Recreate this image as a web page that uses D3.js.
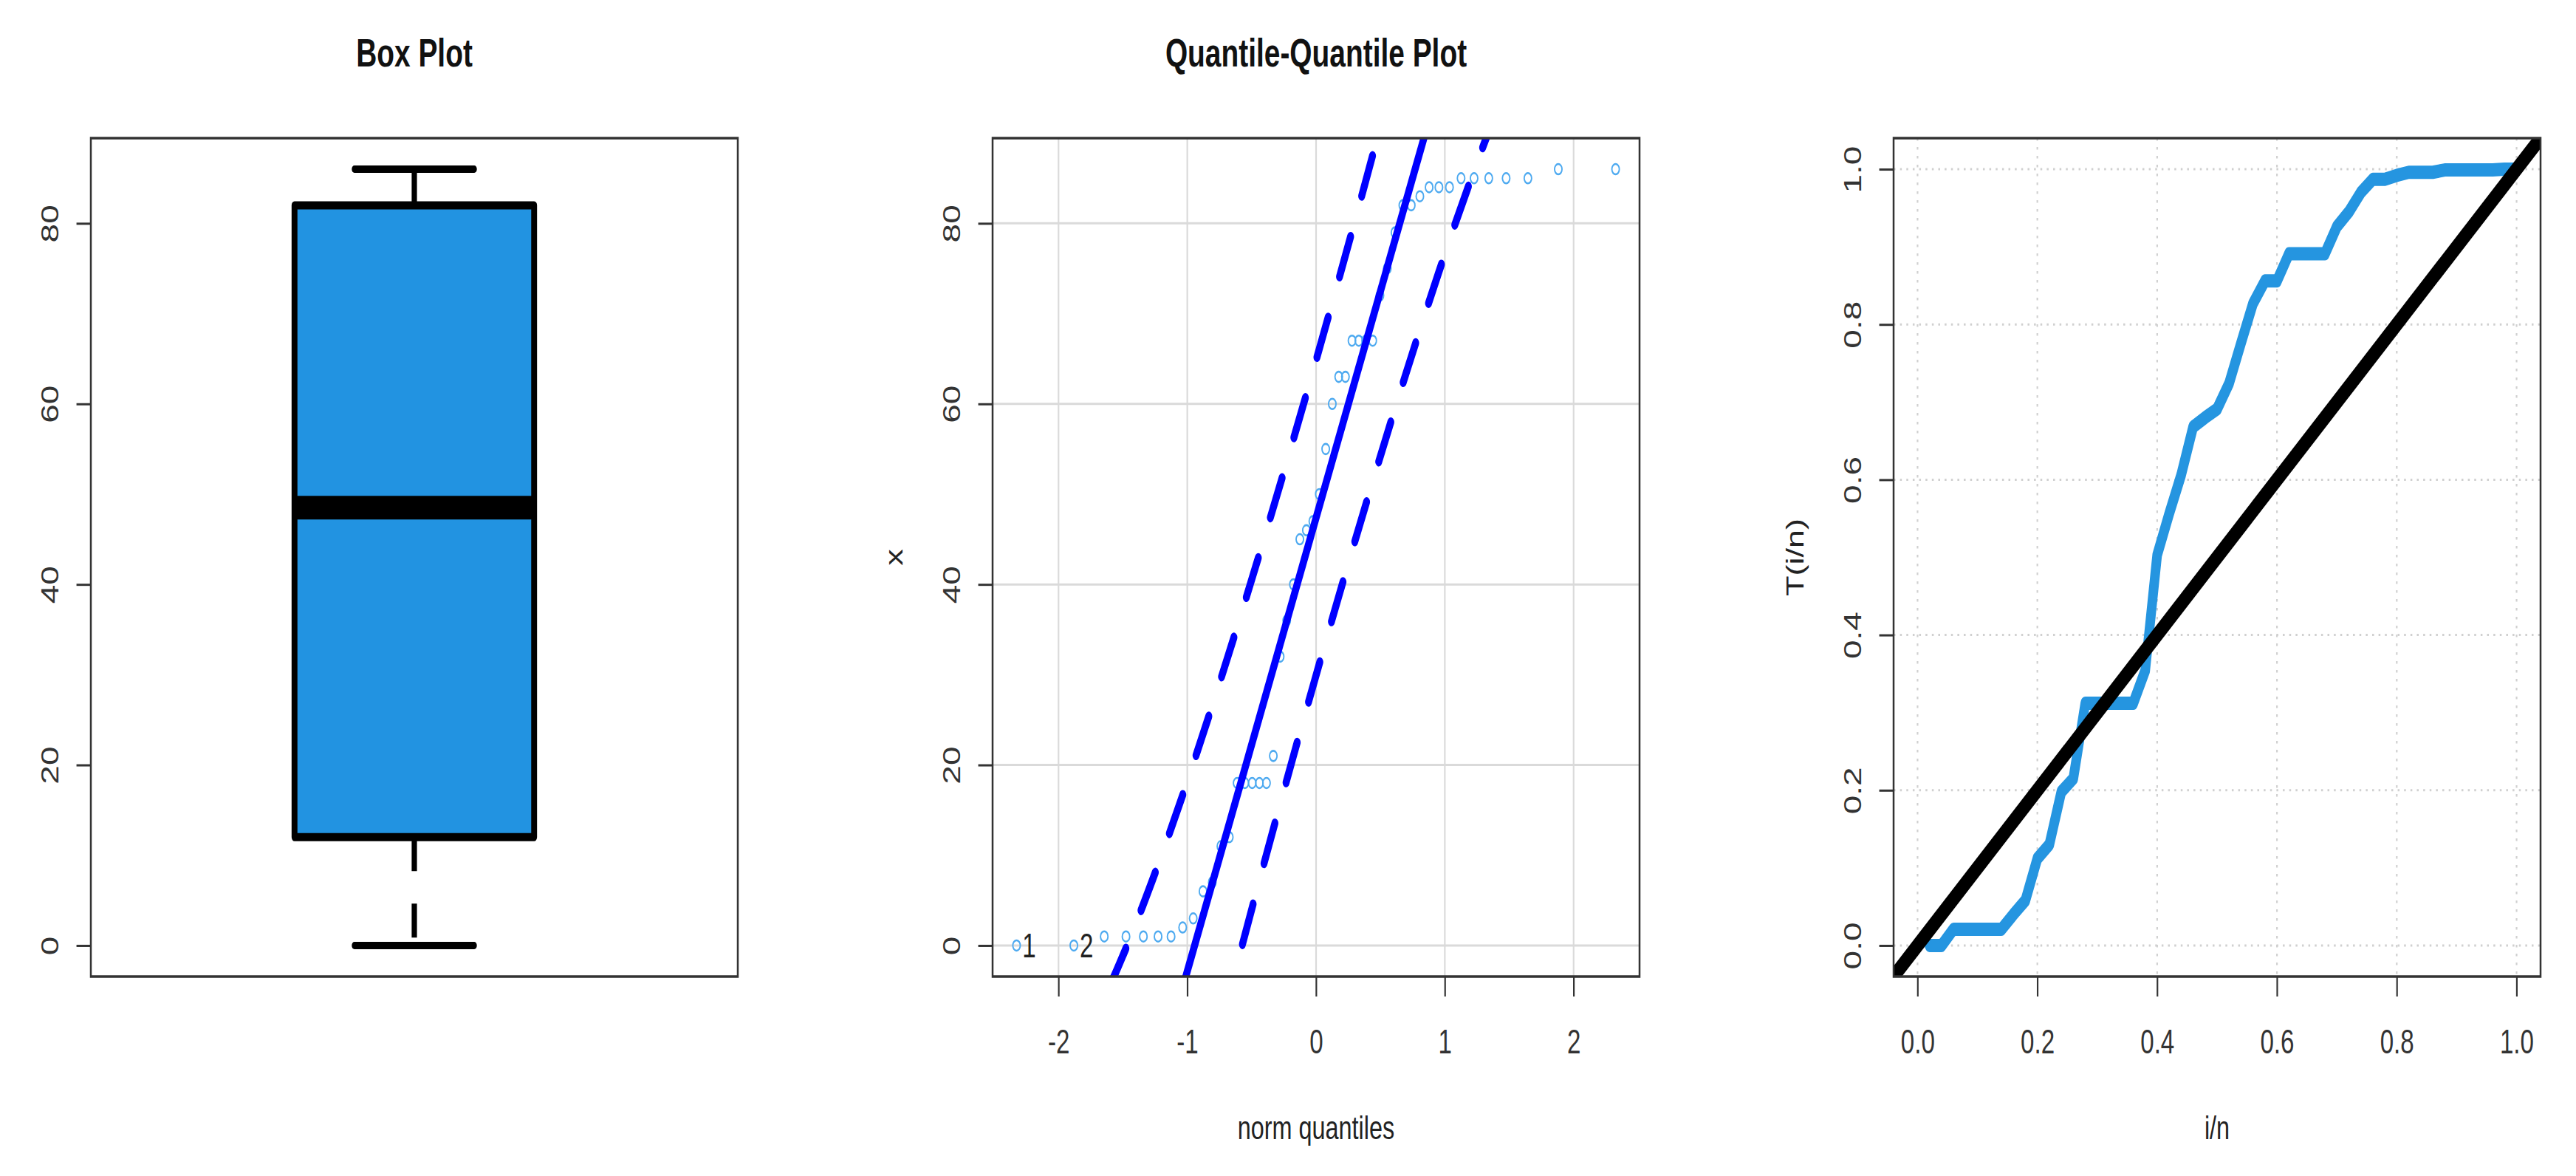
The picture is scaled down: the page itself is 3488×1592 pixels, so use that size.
<!DOCTYPE html>
<html>
<head>
<meta charset="utf-8">
<title>Box Plot / Quantile-Quantile Plot / TTT</title>
<script src="https://cdn.jsdelivr.net/npm/d3@7"></script>
<style>
  body { margin: 0; background: #fff; }
  text { font-family: "Liberation Sans", Arial, sans-serif; }
</style>
</head>
<body>
<div id="chart"></div>

<script>

// ---- data ----
var sample = [0, 0, 1, 1, 1, 1, 1, 2, 3, 6, 7, 11, 12, 18, 18, 18, 18, 18, 21, 32,
	36, 40, 45, 46, 47, 50, 55, 60, 63, 63, 67, 67, 67, 67, 72, 75, 79, 82, 82, 83,
	84, 84, 84, 85, 85, 85, 85, 85, 86, 86];

var normQuantiles = [-2.326, -1.881, -1.645, -1.476, -1.341, -1.227, -1.126, -1.036, -0.954, -0.878,
	-0.806, -0.739, -0.674, -0.613, -0.553, -0.496, -0.440, -0.385, -0.332, -0.279,
	-0.228, -0.176, -0.126, -0.075, -0.025, 0.025, 0.075, 0.126, 0.176, 0.228,
	0.279, 0.332, 0.385, 0.440, 0.496, 0.553, 0.613, 0.674, 0.739, 0.806,
	0.878, 0.954, 1.036, 1.126, 1.227, 1.341, 1.476, 1.645, 1.881, 2.326];

// min, lower hinge, median, upper hinge, max
var boxStats = [0, 12, 48.5, 82, 86];

var qqLineX = [-1.2, 1.0];
var qqLineY = [-12.9, 97.6];

var envZ = [-1.881, -1.645, -1.476, -1.341, -1.227, -1.036, -0.954, -0.674, -0.385, -0.176, -0.025,
	0.025, 0.176, 0.385, 0.674, 0.954, 1.036, 1.227, 1.341, 1.476, 1.645, 1.881];
var envUpper = [-12.18, -5.81, -0.30, 4.57, 8.93, 16.65, 20.13, 32.49, 45.97, 56.09, 63.57,
	66.09, 73.77, 84.65, 100.21, 115.97, 120.73, 132.19, 139.29, 147.98, 159.45, 176.78];
var envLower = [-82.02, -64.69, -53.22, -44.53, -37.43, -25.97, -21.21, -5.45, 10.11, 20.99, 28.67,
	31.19, 38.67, 48.79, 62.27, 74.63, 78.11, 85.83, 90.19, 95.06, 100.57, 106.94];

var idIndex = [0, 1];
var idText = ["1", "2"];

var tttX = [0.02, 0.04, 0.06, 0.08, 0.10, 0.12, 0.14, 0.16, 0.18, 0.20,
	0.22, 0.24, 0.26, 0.28, 0.30, 0.32, 0.34, 0.36, 0.38, 0.40,
	0.42, 0.44, 0.46, 0.48, 0.50, 0.52, 0.54, 0.56, 0.58, 0.60,
	0.62, 0.64, 0.66, 0.68, 0.70, 0.72, 0.74, 0.76, 0.78, 0.80,
	0.82, 0.84, 0.86, 0.88, 0.90, 0.92, 0.94, 0.96, 0.98, 1.00];
var tttY = [0, 0, 0.021, 0.021, 0.021, 0.021, 0.021, 0.040, 0.058, 0.112,
	0.130, 0.198, 0.215, 0.312, 0.312, 0.312, 0.312, 0.312, 0.354, 0.503,
	0.556, 0.606, 0.668, 0.680, 0.691, 0.724, 0.776, 0.827, 0.856, 0.856,
	0.891, 0.891, 0.891, 0.891, 0.926, 0.945, 0.970, 0.987, 0.987, 0.992,
	0.996, 0.996, 0.996, 0.999, 0.999, 0.999, 0.999, 0.999, 1, 1];

var diagX = [-0.1, 1.1];
var diagY = [-0.1, 1.1];

var valueTicks = [0, 20, 40, 60, 80];
var qqTicks = [-2, -1, 0, 1, 2];
var tttTicks = [0, 0.2, 0.4, 0.6, 0.8, 1.0];

var titles = ["Box Plot", "Quantile-Quantile Plot"];
var xTitles = ["", "norm quantiles", "i/n"];
var yTitles = ["", "x", "T(i/n)"];

// ---- layout ----
var width = 3488;
var height = 1592;
var sx = 0.72;            // the picture is squeezed horizontally
var frameLeft = [123, 1344, 2564];
var frameW = 876;
var frameTop = 187;
var frameBottom = 1322;

var w = frameW / sx;
var h = frameBottom - frameTop;

var svg = d3.select("#chart")
	.append("svg")
		.attr("width", width)
		.attr("height", height)
		.style("background", "#fff");

var root = svg.append("g")
	.attr("transform", "scale(" + sx + ",1)");

function panel(i) {
	return root.append("g")
		.attr("transform", "translate(" + (frameLeft[i] / sx) + "," + frameTop + ")");
}

function yAxis(g, scale, ticks, fmt) {
	g.append("g")
		.call(d3.axisLeft(scale).tickValues(ticks).tickSize(27).tickFormat(fmt))
		.call(function(a) { a.select(".domain").remove(); })
		.call(function(a) { a.selectAll("line").attr("stroke", "#333").attr("stroke-width", 3); })
		.call(function(a) {
			a.selectAll("text")
				.attr("x", 0)
				.attr("dy", 0)
				.attr("text-anchor", "middle")
				.attr("transform", "translate(-61,0) rotate(-90)")
				.attr("font-size", 46)
				.attr("fill", "#333");
		});
}

function xAxis(g, scale, ticks, fmt) {
	g.append("g")
		.attr("transform", "translate(0," + h + ")")
		.call(d3.axisBottom(scale).tickValues(ticks).tickSize(27).tickFormat(fmt))
		.call(function(a) { a.select(".domain").remove(); })
		.call(function(a) { a.selectAll("line").attr("stroke", "#333").attr("stroke-width", 3); })
		.call(function(a) {
			a.selectAll("text")
				.attr("y", 104)
				.attr("dy", 0)
				.attr("font-size", 46)
				.attr("fill", "#333");
		});
}

function frame(g) {
	g.append("rect")
		.attr("width", w)
		.attr("height", h)
		.attr("fill", "none")
		.attr("stroke", "#333")
		.attr("stroke-width", 3.5);
}

function titlesFor(g, i) {
	if (titles[i]) {
		g.append("text")
			.text(titles[i])
			.attr("x", w / 2)
			.attr("y", 90 - frameTop)
			.attr("text-anchor", "middle")
			.attr("font-size", 54)
			.attr("font-weight", "bold")
			.attr("fill", "#111");
	}
	if (xTitles[i]) {
		g.append("text")
			.text(xTitles[i])
			.attr("x", w / 2)
			.attr("y", 1542 - frameTop)
			.attr("text-anchor", "middle")
			.attr("font-size", 45)
			.attr("fill", "#222");
	}
	if (yTitles[i]) {
		g.append("text")
			.text(yTitles[i])
			.attr("transform", "translate(-169," + (h / 2) + ") rotate(-90)")
			.attr("text-anchor", "middle")
			.attr("font-size", 45)
			.attr("fill", "#222");
	}
}

function clip(g, id) {
	g.append("clipPath")
		.attr("id", id)
		.append("rect")
			.attr("width", w)
			.attr("height", h);
}

var yVal = d3.scaleLinear().domain([-3.44, 89.44]).range([h, 0]);

// ---- box plot ----
var g1 = panel(0);
var xBox = d3.scaleLinear().domain([0.46, 1.54]).range([0, w]);

g1.append("line")
	.attr("x1", xBox(1)).attr("x2", xBox(1))
	.attr("y1", yVal(boxStats[1])).attr("y2", yVal(boxStats[0]))
	.attr("stroke", "#000")
	.attr("stroke-width", 10)
	.attr("stroke-dasharray", "46 44");

g1.append("line")
	.attr("x1", xBox(1)).attr("x2", xBox(1))
	.attr("y1", yVal(boxStats[3])).attr("y2", yVal(boxStats[4]))
	.attr("stroke", "#000")
	.attr("stroke-width", 10)
	.attr("stroke-dasharray", "46 44");

g1.selectAll("line.cap")
	.data([boxStats[0], boxStats[4]])
	.enter()
	.append("line")
		.attr("class", "cap")
		.attr("x1", xBox(0.9)).attr("x2", xBox(1.1))
		.attr("y1", function(d) { return yVal(d); })
		.attr("y2", function(d) { return yVal(d); })
		.attr("stroke", "#000")
		.attr("stroke-width", 10)
		.attr("stroke-linecap", "round");

g1.append("rect")
	.attr("x", xBox(0.8))
	.attr("width", xBox(1.2) - xBox(0.8))
	.attr("y", yVal(boxStats[3]))
	.attr("height", yVal(boxStats[1]) - yVal(boxStats[3]))
	.attr("fill", "#2293e1")
	.attr("stroke", "#000")
	.attr("stroke-width", 11)
	.attr("stroke-linejoin", "round");

g1.append("line")
	.attr("x1", xBox(0.8)).attr("x2", xBox(1.2))
	.attr("y1", yVal(boxStats[2])).attr("y2", yVal(boxStats[2]))
	.attr("stroke", "#000")
	.attr("stroke-width", 32);

yAxis(g1, yVal, valueTicks, function(d) { return String(d); });
frame(g1);
titlesFor(g1, 0);

// ---- quantile-quantile plot ----
var g2 = panel(1);
clip(g2, "clip-qq");
var xQQ = d3.scaleLinear().domain([-2.512, 2.512]).range([0, w]);

g2.selectAll("line.vgrid")
	.data(qqTicks)
	.enter()
	.append("line")
		.attr("x1", function(d) { return xQQ(d); })
		.attr("x2", function(d) { return xQQ(d); })
		.attr("y1", 0).attr("y2", h)
		.attr("stroke", "#dadada")
		.attr("stroke-width", 3);

g2.selectAll("line.hgrid")
	.data(valueTicks)
	.enter()
	.append("line")
		.attr("x1", 0).attr("x2", w)
		.attr("y1", function(d) { return yVal(d); })
		.attr("y2", function(d) { return yVal(d); })
		.attr("stroke", "#dadada")
		.attr("stroke-width", 3);

g2.selectAll("circle")
	.data(sample)
	.enter()
	.append("circle")
		.attr("cx", function(d, i) { return xQQ(normQuantiles[i]); })
		.attr("cy", function(d) { return yVal(d); })
		.attr("r", 7)
		.attr("fill", "none")
		.attr("stroke", "#4eaaf0")
		.attr("stroke-width", 2.6);

g2.selectAll("text.id")
	.data(idIndex)
	.enter()
	.append("text")
		.attr("class", "id")
		.text(function(d, i) { return idText[i]; })
		.attr("x", function(d) { return xQQ(normQuantiles[d]) + 11; })
		.attr("y", function(d) { return yVal(sample[d]) + 16.5; })
		.attr("font-size", 46)
		.attr("fill", "#222");

var lines = g2.append("g").attr("clip-path", "url(#clip-qq)");

lines.append("line")
	.attr("x1", xQQ(qqLineX[0])).attr("y1", yVal(qqLineY[0]))
	.attr("x2", xQQ(qqLineX[1])).attr("y2", yVal(qqLineY[1]))
	.attr("stroke", "#0000ff")
	.attr("stroke-width", 13);

var envLine = function(vals) {
	return d3.line()
		.x(function(d, i) { return xQQ(envZ[i]); })
		.y(function(d) { return yVal(d); })
		.curve(d3.curveMonotoneX)(vals);
};

lines.selectAll("path.env")
	.data([envUpper, envLower])
	.enter()
	.append("path")
		.attr("class", "env")
		.attr("d", envLine)
		.attr("fill", "none")
		.attr("stroke", "#0000ff")
		.attr("stroke-width", 13)
		.attr("stroke-linecap", "round")
		.attr("stroke-dasharray", "58 59");

xAxis(g2, xQQ, qqTicks, function(d) { return String(d); });
yAxis(g2, yVal, valueTicks, function(d) { return String(d); });
frame(g2);
titlesFor(g2, 1);

// ---- total time on test plot ----
var g3 = panel(2);
clip(g3, "clip-ttt");
var xT = d3.scaleLinear().domain([-0.04, 1.04]).range([0, w]);
var yT = d3.scaleLinear().domain([-0.04, 1.04]).range([h, 0]);

g3.selectAll("line.vgrid")
	.data(tttTicks)
	.enter()
	.append("line")
		.attr("x1", function(d) { return xT(d); })
		.attr("x2", function(d) { return xT(d); })
		.attr("y1", 0).attr("y2", h)
		.attr("stroke", "#d0d0d0")
		.attr("stroke-width", 3)
		.attr("stroke-dasharray", "3.5 8.5");

g3.selectAll("line.hgrid")
	.data(tttTicks)
	.enter()
	.append("line")
		.attr("x1", 0).attr("x2", w)
		.attr("y1", function(d) { return yT(d); })
		.attr("y2", function(d) { return yT(d); })
		.attr("stroke", "#d0d0d0")
		.attr("stroke-width", 3)
		.attr("stroke-dasharray", "3.5 8.5");

var tttLine = d3.line()
	.x(function(d, i) { return xT(tttX[i]); })
	.y(function(d) { return yT(d); });

g3.append("path")
	.attr("d", tttLine(tttY))
	.attr("fill", "none")
	.attr("stroke", "#2595e0")
	.attr("stroke-width", 18)
	.attr("stroke-linejoin", "round")
	.attr("stroke-linecap", "round");

g3.append("g")
	.attr("clip-path", "url(#clip-ttt)")
	.append("line")
		.attr("x1", xT(diagX[0])).attr("y1", yT(diagY[0]))
		.attr("x2", xT(diagX[1])).attr("y2", yT(diagY[1]))
		.attr("stroke", "#000")
		.attr("stroke-width", 21);

xAxis(g3, xT, tttTicks, d3.format(".1f"));
yAxis(g3, yT, tttTicks, d3.format(".1f"));
frame(g3);
titlesFor(g3, 2);

</script>
</body>
</html>
